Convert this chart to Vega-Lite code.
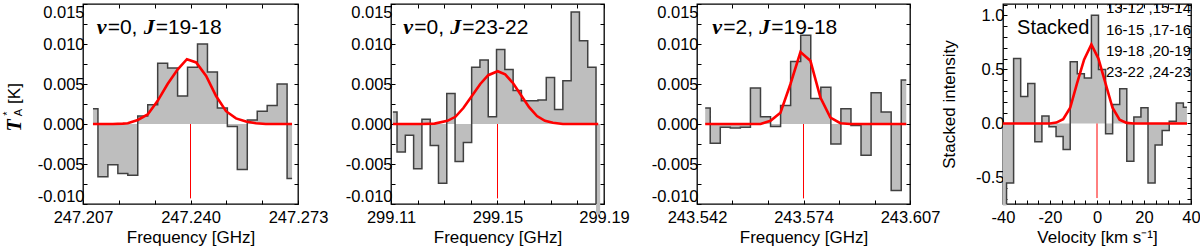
{
"$schema": "https://vega.github.io/schema/vega-lite/v6.json",
"padding": {"left": 0, "top": 2, "right": 0, "bottom": 0},
"spacing": 93,
"bounds": "flush",
"config": {
  "view": {"stroke": "#000", "strokeWidth": 1.3},
  "axis": {"grid": false, "domain": false, "tickColor": "#000", "tickSize": -4, "tickWidth": 1,
    "labelFont": "Liberation Sans", "labelFontSize": 16.5, "labelColor": "#000", "labelOverlap": false, "labelBound": false,
    "titleFont": "Liberation Sans", "titleFontSize": 17, "titleFontWeight": "normal", "titleColor": "#000"}
},
"datasets": {
  "h1": [
    {"x":247.21006,"y":0.0019},{"x":247.21312,"y":-0.0066},{"x":247.21617,"y":-0.0051},{"x":247.21923,"y":-0.0062},
    {"x":247.22228,"y":-0.0064},{"x":247.22534,"y":0.0010},{"x":247.22840,"y":0.0024},{"x":247.23145,"y":0.0076},
    {"x":247.23451,"y":0.0070},{"x":247.23756,"y":0.0035},{"x":247.24062,"y":0.0071},{"x":247.24368,"y":0.0100},
    {"x":247.24673,"y":0.0065},{"x":247.24979,"y":0.0020},{"x":247.25284,"y":-0.0003},{"x":247.25590,"y":-0.0057},
    {"x":247.25896,"y":0.0005},{"x":247.26201,"y":0.0016},{"x":247.26507,"y":0.0023},{"x":247.26812,"y":0.0050},
    {"x":247.27118,"y":-0.0068}],
  "c1": [
    {"x":247.21006,"y":0},{"x":247.21311,"y":0},{"x":247.21617,"y":0},{"x":247.21922,"y":0.00005},
    {"x":247.22075,"y":0.0001},{"x":247.22381,"y":0.0005},{"x":247.22686,"y":0.0012},{"x":247.22992,"y":0.0029},
    {"x":247.23297,"y":0.0050},{"x":247.23603,"y":0.0068},{"x":247.23890,"y":0.0081},{"x":247.24174,"y":0.0077},
    {"x":247.24480,"y":0.0060},{"x":247.24785,"y":0.0035},{"x":247.25091,"y":0.0016},{"x":247.25396,"y":0.0007},
    {"x":247.25702,"y":0.0003},{"x":247.26008,"y":0.0001},{"x":247.26313,"y":0},{"x":247.27117,"y":0}],
  "h2": [
    {"x":299.11071,"y":0.0015},{"x":299.11382,"y":-0.0035},{"x":299.11694,"y":-0.0014},{"x":299.12005,"y":-0.0056},
    {"x":299.12317,"y":0.0006},{"x":299.12628,"y":-0.0027},{"x":299.12939,"y":-0.0074},{"x":299.13251,"y":0.0038},
    {"x":299.13562,"y":-0.0047},{"x":299.13874,"y":-0.0023},{"x":299.14185,"y":0.0071},{"x":299.14496,"y":0.0080},
    {"x":299.14808,"y":0.0009},{"x":299.15119,"y":0.0093},{"x":299.15431,"y":0.0068},{"x":299.15742,"y":0.0042},
    {"x":299.16053,"y":0.0029},{"x":299.16365,"y":0.0029},{"x":299.16676,"y":0.0030},{"x":299.16988,"y":0.0058},
    {"x":299.17299,"y":0.0018},{"x":299.17610,"y":0.0054},{"x":299.17922,"y":0.0140},{"x":299.18233,"y":0.0104},
    {"x":299.18545,"y":0.0071},{"x":299.18856,"y":-0.0113}],
  "c2": [
    {"x":299.11071,"y":0},{"x":299.12148,"y":0},{"x":299.12634,"y":0.00005},{"x":299.13120,"y":0.0004},
    {"x":299.13419,"y":0.0009},{"x":299.13718,"y":0.0020},{"x":299.14017,"y":0.0034},{"x":299.14353,"y":0.0050},
    {"x":299.14652,"y":0.0061},{"x":299.15007,"y":0.0066},{"x":299.15288,"y":0.0062},{"x":299.15587,"y":0.0051},
    {"x":299.15886,"y":0.0036},{"x":299.16185,"y":0.0021},{"x":299.16484,"y":0.0010},{"x":299.16783,"y":0.0004},
    {"x":299.17082,"y":0.00015},{"x":299.17456,"y":0},{"x":299.18783,"y":0}],
  "h3": [
    {"x":243.54450,"y":0.0020},{"x":243.54757,"y":-0.0024},{"x":243.55064,"y":-0.0004},{"x":243.55370,"y":-0.0005},
    {"x":243.55677,"y":-0.0004},{"x":243.55984,"y":0.0045},{"x":243.56291,"y":0.0009},{"x":243.56598,"y":-0.0003},
    {"x":243.56904,"y":0.0023},{"x":243.57211,"y":0.0078},{"x":243.57518,"y":0.0111},{"x":243.57825,"y":0.0032},
    {"x":243.58132,"y":0.0046},{"x":243.58438,"y":-0.0025},{"x":243.58745,"y":0.0019},{"x":243.59052,"y":-0.0002},
    {"x":243.59359,"y":-0.0039},{"x":243.59666,"y":0.0039},{"x":243.59972,"y":0.0015},{"x":243.60279,"y":-0.0083},
    {"x":243.60586,"y":0.0055}],
  "c3": [
    {"x":243.54450,"y":0},{"x":243.56138,"y":0},{"x":243.56443,"y":0.0004},{"x":243.56747,"y":0.0014},
    {"x":243.57052,"y":0.0050},{"x":243.57357,"y":0.0090},{"x":243.57661,"y":0.0079},{"x":243.57966,"y":0.0033},
    {"x":243.58271,"y":0.0008},{"x":243.58575,"y":0.0001},{"x":243.58880,"y":0},{"x":243.60586,"y":0}],
  "h4": [
    {"x":-40.0,"y":-0.76},{"x":-36.99,"y":-0.55},{"x":-33.98,"y":0.60},{"x":-30.97,"y":0.25},{"x":-27.96,"y":0.37},
    {"x":-24.95,"y":-0.17},{"x":-21.94,"y":0.07},{"x":-18.93,"y":-0.03},{"x":-15.92,"y":-0.12},{"x":-12.91,"y":-0.24},
    {"x":-9.90,"y":0.57},{"x":-6.89,"y":0.46},{"x":-3.88,"y":0.42},{"x":-0.87,"y":1.00},{"x":2.14,"y":0.50},
    {"x":5.15,"y":-0.095},{"x":8.16,"y":0.175},{"x":11.17,"y":0.32},{"x":14.18,"y":-0.35},{"x":17.19,"y":0.06},
    {"x":20.20,"y":0.145},{"x":23.21,"y":-0.55},{"x":26.22,"y":-0.20},{"x":29.23,"y":-0.065},{"x":32.24,"y":0.02},
    {"x":35.25,"y":0.19},{"x":38.26,"y":0.15}],
  "c4": [
    {"x":-40,"y":0},{"x":-20.1,"y":0},{"x":-17.3,"y":0.008},{"x":-14.4,"y":0.04},{"x":-11.4,"y":0.145},
    {"x":-8.5,"y":0.37},{"x":-5.5,"y":0.59},{"x":-2.4,"y":0.73},{"x":0.6,"y":0.60},{"x":3.5,"y":0.38},
    {"x":6.6,"y":0.145},{"x":9.6,"y":0.035},{"x":12.6,"y":0.005},{"x":15.6,"y":0},{"x":38.3,"y":0}]
},
"hconcat": [
{
  "width": 215, "height": 200,
  "resolve": {"axis": {"x": "independent", "y": "independent"}},
  "layer": [
    {"data": {"name": "h1"}, "mark": {"type": "area", "interpolate": "step", "color": "#bebebe", "clip": false},
     "encoding": {
       "x": {"field": "x", "type": "quantitative", "scale": {"domain": [247.207, 247.273], "nice": false, "zero": false},
         "axis": {"orient": "bottom", "values": [247.207,247.218,247.229,247.24,247.251,247.262,247.273], "labelFlush": false,
           "labelExpr": "round((datum.value-247.207)/0.011) % 3 == 0 ? format(datum.value, '.3f') : ''",
           "labelPadding": 9, "title": "Frequency [GHz]", "titleY": 33, "titleBaseline": "middle"}},
       "y": {"field": "y", "type": "quantitative", "scale": {"domain": [-0.01, 0.015], "nice": false, "zero": false},
         "axis": {"orient": "left", "values": [-0.01,-0.0075,-0.005,-0.0025,0,0.0025,0.005,0.0075,0.01,0.0125,0.015], "labelFlush": true,
           "labelExpr": "abs(datum.value*200 - round(datum.value*200)) < 0.01 ? replace(format(datum.value, '.3f'), '−', '-') : ''",
           "labelPadding": 3, "title": null}}
     }},
    {"data": {"name": "h1"}, "mark": {"type": "line", "interpolate": "step", "color": "#404040", "strokeWidth": 1.5, "clip": true},
     "encoding": {
       "x": {"field": "x", "type": "quantitative", "axis": {"orient": "top", "values": [247.207,247.218,247.229,247.24,247.251,247.262,247.273], "labels": false, "title": null}},
       "y": {"field": "y", "type": "quantitative", "axis": {"orient": "right", "values": [-0.01,-0.0075,-0.005,-0.0025,0,0.0025,0.005,0.0075,0.01,0.0125,0.015], "labels": false, "title": null}}
     }},
    {"data": {"name": "c1"}, "mark": {"type": "line", "color": "#ff0000", "strokeWidth": 2.6},
     "encoding": {"x": {"field": "x", "type": "quantitative", "axis": null},
       "y": {"field": "y", "type": "quantitative", "axis": {"orient": "left", "labels": false, "ticks": false, "domain": false,
         "title": "T", "titleFont": "Liberation Serif", "titleFontStyle": "italic", "titleFontWeight": "bold", "titleFontSize": 20,
         "titleX": -69, "titleY": 121, "titleBaseline": "middle", "titleAlign": "center"}}}},
    {"data": {"values": [{}]}, "mark": {"type": "rule", "color": "#ff0000", "strokeWidth": 1},
     "encoding": {"x": {"datum": 247.24, "type": "quantitative", "axis": null},
       "y": {"datum": 0, "type": "quantitative", "axis": {"orient": "left", "labels": false, "ticks": false, "domain": false,
         "title": "A", "titleFontSize": 11, "titleX": -65, "titleY": 108, "titleBaseline": "middle", "titleAlign": "center"}},
       "y2": {"datum": -0.0093}}},
    {"data": {"values": [{}]}, "mark": {"type": "text", "text": "ν", "font": "Liberation Serif", "fontStyle": "italic", "fontWeight": "bold", "fontSize": 22, "align": "left", "baseline": "alphabetic", "dx": 0},
     "encoding": {"x": {"datum": 247.2112, "type": "quantitative", "axis": null},
       "y": {"datum": 0.01125, "type": "quantitative", "axis": {"orient": "left", "labels": false, "ticks": false, "domain": false,
         "title": "*", "titleFontSize": 11, "titleX": -76, "titleY": 109, "titleBaseline": "middle", "titleAlign": "center"}}}},
    {"data": {"values": [{}]}, "mark": {"type": "text", "text": "=0,", "font": "Liberation Sans", "fontSize": 21, "align": "left", "baseline": "alphabetic", "dx": 11},
     "encoding": {"x": {"datum": 247.2112, "type": "quantitative", "axis": null},
       "y": {"datum": 0.01125, "type": "quantitative", "axis": {"orient": "left", "labels": false, "ticks": false, "domain": false,
         "title": "[K]", "titleFontSize": 17, "titleX": -69, "titleY": 89, "titleBaseline": "middle", "titleAlign": "center"}}}},
    {"data": {"values": [{}]}, "mark": {"type": "text", "text": "J", "font": "Liberation Serif", "fontStyle": "italic", "fontWeight": "bold", "fontSize": 22, "align": "left", "baseline": "alphabetic", "dx": 47},
     "encoding": {"x": {"datum": 247.2112, "type": "quantitative", "axis": null}, "y": {"datum": 0.01125, "type": "quantitative", "axis": null}}},
    {"data": {"values": [{}]}, "mark": {"type": "text", "text": "=19-18", "font": "Liberation Sans", "fontSize": 21, "align": "left", "baseline": "alphabetic", "dx": 59},
     "encoding": {"x": {"datum": 247.2112, "type": "quantitative", "axis": null}, "y": {"datum": 0.01125, "type": "quantitative", "axis": null}}}
  ]
},
{
  "width": 213, "height": 200,
  "resolve": {"axis": {"x": "independent", "y": "independent"}},
  "layer": [
    {"data": {"name": "h2"}, "mark": {"type": "area", "interpolate": "step", "color": "#bebebe", "clip": false},
     "encoding": {
       "x": {"field": "x", "type": "quantitative", "scale": {"domain": [299.11, 299.19], "nice": false, "zero": false},
         "axis": {"orient": "bottom", "values": [299.11,299.12,299.13,299.14,299.15,299.16,299.17,299.18,299.19], "labelFlush": false,
           "labelExpr": "round((datum.value-299.11)*100) % 4 == 0 ? format(datum.value, '.2f') : ''",
           "labelPadding": 9, "title": "Frequency [GHz]", "titleY": 33, "titleBaseline": "middle"}},
       "y": {"field": "y", "type": "quantitative", "scale": {"domain": [-0.01, 0.015], "nice": false, "zero": false},
         "axis": {"orient": "left", "values": [-0.01,-0.0075,-0.005,-0.0025,0,0.0025,0.005,0.0075,0.01,0.0125,0.015], "labelFlush": true,
           "labelExpr": "abs(datum.value*200 - round(datum.value*200)) < 0.01 ? replace(format(datum.value, '.3f'), '−', '-') : ''",
           "labelPadding": 3, "title": null}}
     }},
    {"data": {"name": "h2"}, "mark": {"type": "line", "interpolate": "step", "color": "#404040", "strokeWidth": 1.5, "clip": true},
     "encoding": {
       "x": {"field": "x", "type": "quantitative", "axis": {"orient": "top", "values": [299.11,299.12,299.13,299.14,299.15,299.16,299.17,299.18,299.19], "labels": false, "title": null}},
       "y": {"field": "y", "type": "quantitative", "axis": {"orient": "right", "values": [-0.01,-0.0075,-0.005,-0.0025,0,0.0025,0.005,0.0075,0.01,0.0125,0.015], "labels": false, "title": null}}
     }},
    {"data": {"name": "c2"}, "mark": {"type": "line", "color": "#ff0000", "strokeWidth": 2.6},
     "encoding": {"x": {"field": "x", "type": "quantitative", "axis": null}, "y": {"field": "y", "type": "quantitative", "axis": null}}},
    {"data": {"values": [{}]}, "mark": {"type": "rule", "color": "#ff0000", "strokeWidth": 1},
     "encoding": {"x": {"datum": 299.15, "type": "quantitative", "axis": null}, "y": {"datum": 0, "type": "quantitative", "axis": null}, "y2": {"datum": -0.0093}}},
    {"data": {"values": [{}]}, "mark": {"type": "text", "text": "ν", "font": "Liberation Serif", "fontStyle": "italic", "fontWeight": "bold", "fontSize": 22, "align": "left", "baseline": "alphabetic", "dx": 0},
     "encoding": {"x": {"datum": 299.11464, "type": "quantitative", "axis": null}, "y": {"datum": 0.01125, "type": "quantitative", "axis": null}}},
    {"data": {"values": [{}]}, "mark": {"type": "text", "text": "=0,", "font": "Liberation Sans", "fontSize": 21, "align": "left", "baseline": "alphabetic", "dx": 11},
     "encoding": {"x": {"datum": 299.11464, "type": "quantitative", "axis": null}, "y": {"datum": 0.01125, "type": "quantitative", "axis": null}}},
    {"data": {"values": [{}]}, "mark": {"type": "text", "text": "J", "font": "Liberation Serif", "fontStyle": "italic", "fontWeight": "bold", "fontSize": 22, "align": "left", "baseline": "alphabetic", "dx": 47},
     "encoding": {"x": {"datum": 299.11464, "type": "quantitative", "axis": null}, "y": {"datum": 0.01125, "type": "quantitative", "axis": null}}},
    {"data": {"values": [{}]}, "mark": {"type": "text", "text": "=23-22", "font": "Liberation Sans", "fontSize": 21, "align": "left", "baseline": "alphabetic", "dx": 59},
     "encoding": {"x": {"datum": 299.11464, "type": "quantitative", "axis": null}, "y": {"datum": 0.01125, "type": "quantitative", "axis": null}}}
  ]
},
{
  "width": 213, "height": 200,
  "resolve": {"axis": {"x": "independent", "y": "independent"}},
  "layer": [
    {"data": {"name": "h3"}, "mark": {"type": "area", "interpolate": "step", "color": "#bebebe", "clip": false},
     "encoding": {
       "x": {"field": "x", "type": "quantitative", "scale": {"domain": [243.542, 243.607], "nice": false, "zero": false},
         "axis": {"orient": "bottom", "values": [243.542,243.55283,243.56367,243.5745,243.58533,243.59617,243.607], "labelFlush": false,
           "labelExpr": "round((datum.value-243.542)/0.0108333) % 3 == 0 ? (datum.value < 243.56 ? '243.542' : datum.value < 243.59 ? '243.574' : '243.607') : ''",
           "labelPadding": 9, "title": "Frequency [GHz]", "titleY": 33, "titleBaseline": "middle"}},
       "y": {"field": "y", "type": "quantitative", "scale": {"domain": [-0.01, 0.015], "nice": false, "zero": false},
         "axis": {"orient": "left", "values": [-0.01,-0.0075,-0.005,-0.0025,0,0.0025,0.005,0.0075,0.01,0.0125,0.015], "labelFlush": true,
           "labelExpr": "abs(datum.value*200 - round(datum.value*200)) < 0.01 ? replace(format(datum.value, '.3f'), '−', '-') : ''",
           "labelPadding": 3, "title": null}}
     }},
    {"data": {"name": "h3"}, "mark": {"type": "line", "interpolate": "step", "color": "#404040", "strokeWidth": 1.5, "clip": true},
     "encoding": {
       "x": {"field": "x", "type": "quantitative", "axis": {"orient": "top", "values": [243.542,243.55283,243.56367,243.5745,243.58533,243.59617,243.607], "labels": false, "title": null}},
       "y": {"field": "y", "type": "quantitative", "axis": {"orient": "right", "values": [-0.01,-0.0075,-0.005,-0.0025,0,0.0025,0.005,0.0075,0.01,0.0125,0.015], "labels": false, "title": null}}
     }},
    {"data": {"name": "c3"}, "mark": {"type": "line", "color": "#ff0000", "strokeWidth": 2.6},
     "encoding": {"x": {"field": "x", "type": "quantitative", "axis": null}, "y": {"field": "y", "type": "quantitative", "axis": null}}},
    {"data": {"values": [{}]}, "mark": {"type": "rule", "color": "#ff0000", "strokeWidth": 1},
     "encoding": {"x": {"datum": 243.5745, "type": "quantitative", "axis": null}, "y": {"datum": 0, "type": "quantitative", "axis": null}, "y2": {"datum": -0.0093}}},
    {"data": {"values": [{}]}, "mark": {"type": "text", "text": "ν", "font": "Liberation Serif", "fontStyle": "italic", "fontWeight": "bold", "fontSize": 22, "align": "left", "baseline": "alphabetic", "dx": 0},
     "encoding": {"x": {"datum": 243.54666, "type": "quantitative", "axis": null}, "y": {"datum": 0.01125, "type": "quantitative", "axis": null}}},
    {"data": {"values": [{}]}, "mark": {"type": "text", "text": "=2,", "font": "Liberation Sans", "fontSize": 21, "align": "left", "baseline": "alphabetic", "dx": 11},
     "encoding": {"x": {"datum": 243.54666, "type": "quantitative", "axis": null}, "y": {"datum": 0.01125, "type": "quantitative", "axis": null}}},
    {"data": {"values": [{}]}, "mark": {"type": "text", "text": "J", "font": "Liberation Serif", "fontStyle": "italic", "fontWeight": "bold", "fontSize": 22, "align": "left", "baseline": "alphabetic", "dx": 47},
     "encoding": {"x": {"datum": 243.54666, "type": "quantitative", "axis": null}, "y": {"datum": 0.01125, "type": "quantitative", "axis": null}}},
    {"data": {"values": [{}]}, "mark": {"type": "text", "text": "=19-18", "font": "Liberation Sans", "fontSize": 21, "align": "left", "baseline": "alphabetic", "dx": 59},
     "encoding": {"x": {"datum": 243.54666, "type": "quantitative", "axis": null}, "y": {"datum": 0.01125, "type": "quantitative", "axis": null}}}
  ]
},
{
  "width": 188, "height": 200,
  "resolve": {"axis": {"x": "independent", "y": "independent"}},
  "layer": [
    {"data": {"name": "h4"}, "mark": {"type": "area", "interpolate": "step", "color": "#bebebe", "clip": false},
     "encoding": {
       "x": {"field": "x", "type": "quantitative", "scale": {"domain": [-40, 40], "nice": false, "zero": false},
         "axis": {"orient": "bottom", "values": [-40,-35,-30,-25,-20,-15,-10,-5,0,5,10,15,20,25,30,35,40], "labelFlush": false,
           "labelExpr": "datum.value % 20 == 0 ? replace(format(datum.value, 'd'), '−', '-') : ''",
           "labelPadding": 9, "title": "Velocity [km s⁻¹]", "titleY": 33, "titleBaseline": "middle"}},
       "y": {"field": "y", "type": "quantitative", "scale": {"domain": [-0.745, 1.105], "nice": false, "zero": false},
         "axis": {"orient": "left", "values": [-0.7,-0.6,-0.5,-0.4,-0.3,-0.2,-0.1,0,0.1,0.2,0.3,0.4,0.5,0.6,0.7,0.8,0.9,1.0,1.1], "labelFlush": true,
           "labelExpr": "abs(datum.value*2 - round(datum.value*2)) < 0.01 ? replace(format(datum.value, '.1f'), '−', '-') : ''",
           "labelPadding": 3, "title": "Stacked intensity", "titleX": -54, "titleY": 100, "titleBaseline": "middle", "titleAlign": "center"}}
     }},
    {"data": {"name": "h4"}, "mark": {"type": "line", "interpolate": "step", "color": "#404040", "strokeWidth": 1.5, "clip": true},
     "encoding": {
       "x": {"field": "x", "type": "quantitative", "axis": {"orient": "top", "values": [-40,-35,-30,-25,-20,-15,-10,-5,0,5,10,15,20,25,30,35,40], "labels": false, "title": null}},
       "y": {"field": "y", "type": "quantitative", "axis": {"orient": "right", "values": [-0.7,-0.6,-0.5,-0.4,-0.3,-0.2,-0.1,0,0.1,0.2,0.3,0.4,0.5,0.6,0.7,0.8,0.9,1.0,1.1], "labels": false, "title": null}}
     }},
    {"data": {"name": "c4"}, "mark": {"type": "line", "color": "#ff0000", "strokeWidth": 2.6},
     "encoding": {"x": {"field": "x", "type": "quantitative", "axis": null}, "y": {"field": "y", "type": "quantitative", "axis": null}}},
    {"data": {"values": [{}]}, "mark": {"type": "rule", "color": "#ff0000", "strokeWidth": 1},
     "encoding": {"x": {"datum": 0, "type": "quantitative", "axis": null}, "y": {"datum": 0, "type": "quantitative", "axis": null}, "y2": {"datum": -0.69}}},
    {"data": {"values": [{}]}, "mark": {"type": "text", "text": "Stacked", "font": "Liberation Sans", "fontSize": 20, "align": "left", "baseline": "alphabetic"},
     "encoding": {"x": {"datum": -34.0, "type": "quantitative", "axis": null}, "y": {"datum": 0.825, "type": "quantitative", "axis": null}}},
    {"data": {"values": [{}]}, "mark": {"type": "text", "text": ["13-12 ,15-14", "16-15 ,17-16", "19-18 ,20-19", "23-22 ,24-23"], "font": "Liberation Sans", "fontSize": 15, "lineHeight": 21.3, "align": "left", "baseline": "middle", "clip": true},
     "encoding": {"x": {"datum": 3.8, "type": "quantitative", "axis": null}, "y": {"datum": 1.065, "type": "quantitative", "axis": null}}}
  ]
}
]
}
